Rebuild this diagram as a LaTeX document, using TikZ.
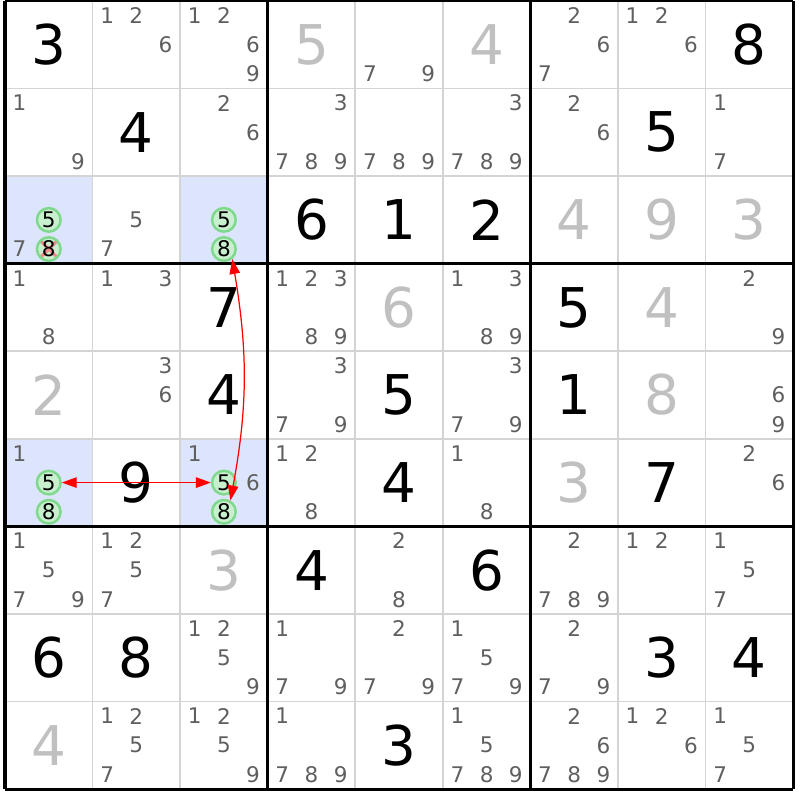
\documentclass[tikz,border=0pt]{standalone}
\usepackage{fontspec}
\setmainfont{DejaVu Sans}
\usetikzlibrary{arrows.meta}
\definecolor{candgray}{HTML}{5F5F5F}
\definecolor{solvedgray}{HTML}{C0C0C0}
\definecolor{hilite}{HTML}{DCE5FB}
\definecolor{gridgray}{HTML}{D4D4D4}
\definecolor{pairfill}{HTML}{C8EFCE}
\definecolor{pairline}{HTML}{7ED98C}
\definecolor{elimred}{HTML}{F28A8A}

\tikzset{
  given/.style={font=\fontsize{17.8}{20}\selectfont, text=black, inner sep=0pt},
  solved/.style={given, text=solvedgray},
  cand/.style={font=\fontsize{7}{8}\selectfont, text=candgray, inner sep=0pt},
  pair/.style={cand, text=black, circle, draw=pairline, fill=pairfill, line width=0.8pt, minimum size=2.7mm},
  elim/.style={pair, path picture={
      \draw[elimred, line width=1pt]
        (path picture bounding box.north west) -- (path picture bounding box.south east)
        (path picture bounding box.north east) -- (path picture bounding box.south west);}},
  cellline/.style={gridgray, line width=0.6pt},
  boxline/.style={black, line width=1pt},
  link/.style={red, line width=0.4pt,
      {Triangle[length=1.7mm,width=1.2mm]}-{Triangle[length=1.7mm,width=1.2mm]}}
}

\begin{document}
\begin{tikzpicture}
  \useasboundingbox (-0.057,0.011) rectangle (9.068,-9.125);

  % highlighted cells
  \foreach \r/\c in {3/1,3/3,6/1,6/3}
    \fill[hilite] (\c-1,1-\r) rectangle (\c,-\r);

  % grid
  \foreach \i in {1,2,4,5,7,8} {
    \draw[cellline] (\i,0) -- (\i,-9);
    \draw[cellline] (0,-\i) -- (9,-\i);
  }
  \foreach \i in {0,3,6,9} {
    \draw[boxline] (\i,0) -- (\i,-9);
    \draw[boxline] (0,-\i) -- (9,-\i);
  }

  % givens and solved cells
  \foreach \r/\c/\d in {1/1/3,1/9/8,2/2/4,2/8/5,3/4/6,3/5/1,3/6/2,4/3/7,4/7/5,5/3/4,5/5/5,
                        5/7/1,6/2/9,6/5/4,6/8/7,7/4/4,7/6/6,8/1/6,8/2/8,8/8/3,8/9/4,9/5/3}
    \node[given] (g-\r-\c) at (\c-0.5,0.5-\r) {\d};
  \foreach \r/\c/\d in {1/4/5,1/6/4,3/7/4,3/8/9,3/9/3,4/5/6,4/8/4,5/1/2,5/8/8,6/7/3,7/3/3,9/1/4}
    \node[solved] (s-\r-\c) at (\c-0.5,0.5-\r) {\d};

  % candidates
  \foreach \r/\c/\ds in {1/2/{1,2,6},1/3/{1,2,6,9},1/5/{7,9},1/7/{2,6,7},1/8/{1,2,6},
      2/1/{1,9},2/3/{2,6},2/4/{3,7,8,9},2/5/{7,8,9},2/6/{3,7,8,9},2/7/{2,6},2/9/{1,7},
      3/1/{7},3/2/{5,7},
      4/1/{1,8},4/2/{1,3},4/4/{1,2,3,8,9},4/6/{1,3,8,9},4/9/{2,9},
      5/2/{3,6},5/4/{3,7,9},5/6/{3,7,9},5/9/{6,9},
      6/1/{1},6/3/{1,6},6/4/{1,2,8},6/6/{1,8},6/9/{2,6},
      7/1/{1,5,7,9},7/2/{1,2,5,7},7/5/{2,8},7/7/{2,7,8,9},7/8/{1,2},7/9/{1,5,7},
      8/3/{1,2,5,9},8/4/{1,7,9},8/5/{2,7,9},8/6/{1,5,7,9},8/7/{2,7,9},
      9/2/{1,2,5,7},9/3/{1,2,5,9},9/4/{1,7,8,9},9/6/{1,5,7,8,9},9/7/{2,6,7,8,9},
      9/8/{1,2,6},9/9/{1,5,7}}
    \foreach \d in \ds {
      \pgfmathsetmacro\cx{\c-1+(mod(\d-1,3)+0.5)/3}
      \pgfmathsetmacro\cy{1-\r-(int((\d-1)/3)+0.5)/3}
      \node[cand] (c-\r-\c-\d) at (\cx,\cy) {\d};
    }

  % strong link candidates
  \node[pair] (p-3-1-5) at (0.5,-2.5)    {5};
  \node[elim] (p-3-1-8) at (0.5,-2.8333) {8};
  \node[pair] (p-3-3-5) at (2.5,-2.5)    {5};
  \node[pair] (p-3-3-8) at (2.5,-2.8333) {8};
  \node[pair] (p-6-1-5) at (0.5,-5.5)    {5};
  \node[pair] (p-6-1-8) at (0.5,-5.8333) {8};
  \node[pair] (p-6-3-5) at (2.5,-5.5)    {5};
  \node[pair] (p-6-3-8) at (2.5,-5.8333) {8};

  \draw[link] (p-6-3-5.west) -- (p-6-1-5.east);
  \draw[link] (p-3-3-8.-50) to[bend left=10] (p-6-3-8.60);
\end{tikzpicture}
\end{document}
